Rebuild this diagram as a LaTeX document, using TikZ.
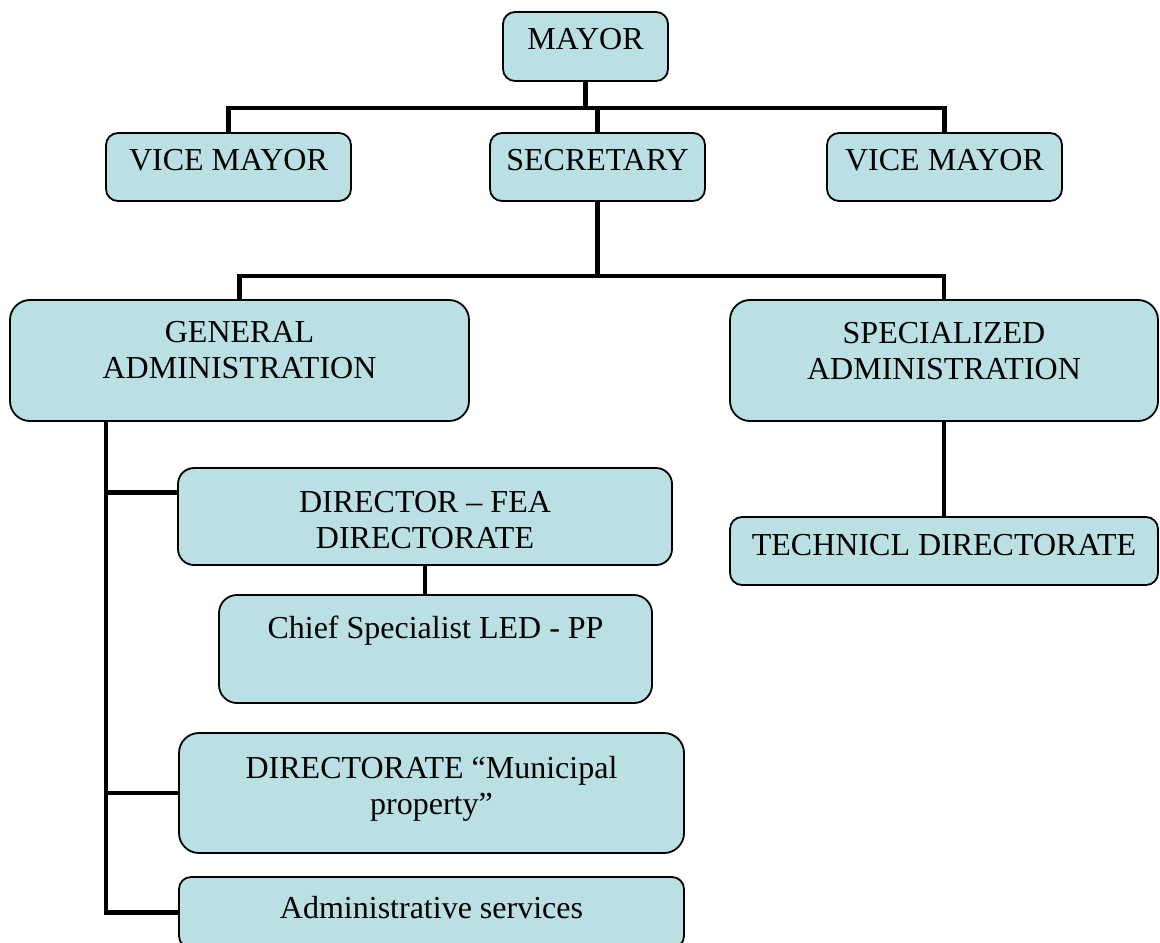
\documentclass[tikz,border=0pt]{standalone}
\usepackage{fontspec}
\setmainfont{Liberation Serif}
\usetikzlibrary{positioning,fit}
\definecolor{boxfill}{RGB}{186,224,227}
\tikzset{
  unit/.style={draw,line width=0.9pt,fill=boxfill,rounded corners=6pt,inner sep=0pt},
  caption/.style={inner sep=0pt,align=center,font=\fontsize{16}{18}\selectfont},
  link/.style={line width=2.4pt}
}
\begin{document}
\begin{tikzpicture}[x=0.5pt,y=-0.5pt]
\useasboundingbox (0,0) rectangle (1160,942);
% boxes
\node[unit,fit={(503,12) (668,81)}] (mayor) {};
\node[unit,fit={(106,133) (351,201)}] (vmleft) {};
\node[unit,fit={(490,133) (705,201)}] (secretary) {};
\node[unit,fit={(827,133) (1062,201)}] (vmright) {};
\node[unit,rounded corners=10pt,fit={(10,300) (469,421)}] (general) {};
\node[unit,rounded corners=10pt,fit={(730,300) (1158,421)}] (special) {};
\node[unit,fit={(730,517) (1158,585)}] (technical) {};
\node[unit,rounded corners=8pt,fit={(178,468) (672,565)}] (feadir) {};
\node[unit,rounded corners=9pt,fit={(219,595) (652,703)}] (chief) {};
\node[unit,rounded corners=10pt,fit={(179,733) (684,853)}] (property) {};
\node[unit,fit={(179,877) (684,948)}] (admin) {};
% texts
\node[caption,below=8.5pt of mayor.north] (mayortxt) {MAYOR};
\node[caption,below=8.5pt of vmleft.north] (vmlefttxt) {VICE MAYOR};
\node[caption,below=8.5pt of secretary.north] (secretarytxt) {SECRETARY};
\node[caption,below=8.5pt of vmright.north] (vmrighttxt) {VICE MAYOR};
\node[caption,below=11pt of general.north] (generaltxt) {GENERAL\\ADMINISTRATION};
\node[caption,below=11.5pt of special.north] (specialtxt) {SPECIALIZED\\ADMINISTRATION};
\node[caption,below=9pt of technical.north] (technicaltxt) {TECHNICL DIRECTORATE};
\node[caption,below=12pt of feadir.north] (feadirtxt) {DIRECTOR – FEA\\DIRECTORATE};
\node[caption,below=10.5pt of chief.north] (chieftxt) {Chief Specialist LED - PP};
\node[caption,below=12pt of property.north] (propertytxt) {DIRECTORATE “Municipal\\property”};
\node[caption,below=10pt of admin.north] (admintxt) {Administrative services};
% connectors
\coordinate (topbus) at (0,108);
\coordinate (midbus) at (0,276);
\coordinate (trunk) at (106,421);
\coordinate (feajoin) at ([yshift=12pt]feadir.west);
\draw[link] (mayor.south) -- (mayor.south |- topbus);
\draw[link] (vmleft.north) |- (vmright.north |- topbus) -- (vmright.north);
\draw[link] (secretary.north) -- (secretary.north |- topbus);
\draw[link] (secretary.south) -- (secretary.south |- midbus);
\draw[link] (general.north) |- (special.north |- midbus) -- (special.north);
\draw[link] (special.south) -- (technical.north);
\draw[link] (trunk) |- (admin.west);
\draw[link] (trunk |- property.west) -- (property.west);
\draw[link] (trunk |- feajoin) -- (feajoin);
\draw[link] (feadir.south) -- (feadir.south |- chief.north);
\end{tikzpicture}
\end{document}
